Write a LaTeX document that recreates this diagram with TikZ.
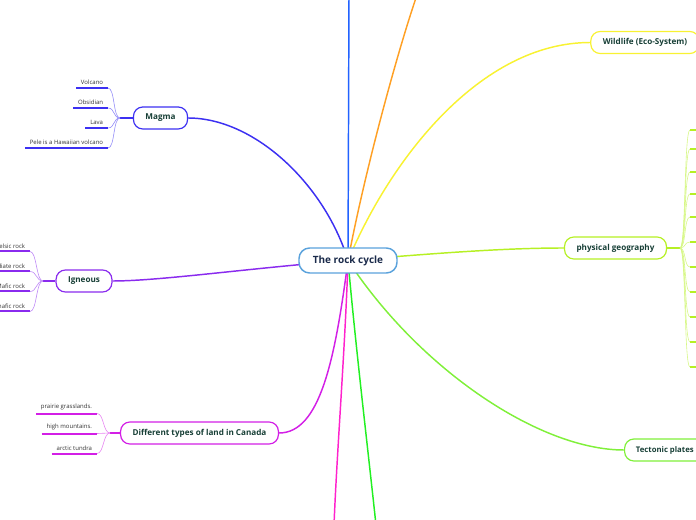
\documentclass[tikz,border=0pt]{standalone}
\usepackage{fontspec}
\setmainfont{Open Sans}
\pgfdeclarelayer{bg}
\pgfsetlayers{bg,main}
\definecolor{cRoot}{HTML}{5AA2DC}
\definecolor{cRootTxt}{HTML}{1B2B4B}
\definecolor{cTxt}{HTML}{173F36}
\definecolor{cLeaf}{HTML}{333333}
\definecolor{cMagma}{HTML}{3C30F2}
\definecolor{cIgn}{HTML}{8A2BEE}
\definecolor{cCan}{HTML}{D31FE6}
\definecolor{cMag}{HTML}{FF22CC}
\definecolor{cGreen}{HTML}{22F022}
\definecolor{cTect}{HTML}{80F03A}
\definecolor{cPhys}{HTML}{B6F024}
\definecolor{cWild}{HTML}{F8F232}
\definecolor{cOrange}{HTML}{FFA024}
\definecolor{cBlue}{HTML}{2262FF}
\tikzset{
  rootbox/.style={draw=cRoot, line width=1.1pt, fill=white, rounded corners=8pt,
    minimum width=73.5pt, minimum height=18.75pt,
    font=\fontsize{7.5}{9}\selectfont\bfseries, text=cRootTxt},
  branchbox/.style={draw=#1, line width=0.9pt, fill=white, rounded corners=7pt,
    inner xsep=9pt, inner ysep=0pt, minimum height=16.5pt,
    font=\fontsize{6.1}{8}\selectfont\bfseries, text=cTxt},
  leafbox/.style={anchor=south east, inner xsep=3.5pt, inner ysep=2.2pt,
    font=\fontsize{4.5}{5.5}\selectfont, text=cLeaf},
  mainline/.style={draw=#1, line width=1.1pt},
  subline/.style={draw=#1!55, line width=0.45pt},
  uline/.style={draw=#1, line width=1.5pt},
}
\begin{document}
\begin{tikzpicture}[x=0.75pt, y=-0.75pt]
\useasboundingbox (0,0) rectangle (696,520);
\clip (0,0) rectangle (696,520);

% nodes
\node[rootbox] (root) at (348,260.5) {The rock cycle};
\node[branchbox=cMagma] (magma) at (160.5,118) {Magma};
\node[branchbox=cIgn] (igneous) at (84,281) {Igneous};
\node[branchbox=cCan] (canada) at (199.5,433) {Different types of land in Canada};
\node[branchbox=cPhys] (phys) at (615.5,248) {physical geography};
\node[branchbox=cWild] (wild) at (645,42.5) {Wildlife (Eco-System)};
\node[branchbox=cTect, anchor=west, inner xsep=8.5pt,
      font=\fontsize{5.8}{7}\selectfont\bfseries] (tect) at (624,450) {Tectonic plates};

% leaves
\node[leafbox] (v1) at (108,88) {Volcano};
\node[leafbox] (v2) at (108,108) {Obsidian};
\node[leafbox] (v3) at (108,128) {Lava};
\node[leafbox] (v4) at (108,148) {Pele is a Hawaiian volcano};
\node[leafbox] (i1) at (30,251.5) {Felsic rock};
\node[leafbox] (i2) at (30,271.5) {Intermediate rock};
\node[leafbox] (i3) at (30,291.5) {Mafic rock};
\node[leafbox] (i4) at (30,311.5) {Ultramafic rock};
\node[leafbox] (c1) at (97,413.5) {prairie grasslands.};
\node[leafbox] (c2) at (97,433.5) {high mountains.};
\node[leafbox] (c3) at (97,453.5) {arctic tundra};

% junctions and free ends
\coordinate (mj) at (120,118);
\coordinate (ij) at (43,281);
\coordinate (cj) at (110,433);
\coordinate (pj) at (680,248);
\coordinate (bl) at (349,-5);
\coordinate (or) at (417,-5);
\coordinate (gd) at (376,525);
\coordinate (md) at (334,525);
\foreach \k/\y in {1/130,2/149,3/172,4/194,5/217,6/242,7/267,8/292,9/317,10/342,11/367}{
  \coordinate (p\k) at (690,\y);
  \coordinate (q\k) at (705,\y);
}

\begin{pgfonlayer}{bg}
% main branches
\draw[mainline=cBlue] (root.center) -- (bl);
\draw[mainline=cOrange] (root.center) .. controls (365,170) and (398,50) .. (or);
\draw[mainline=cWild] (root.center) .. controls (390,160) and (480,42.5) .. (wild.west);
\draw[mainline=cPhys] (root.center) .. controls (450,252) and (510,248) .. (phys.west);
\draw[mainline=cTect] (root.center) .. controls (420,370) and (540,450) .. (tect.west);
\draw[mainline=cGreen] (root.center) .. controls (356,350) and (368,450) .. (gd);
\draw[mainline=cMag] (root.center) .. controls (345,350) and (337,450) .. (md);
\draw[mainline=cCan] (root.center) .. controls (335,360) and (320,433) .. (canada.east);
\draw[mainline=cIgn] (root.center) .. controls (250,268) and (160,281) .. (igneous.east);
\draw[mainline=cMagma] (root.center) .. controls (325,185) and (255,118) .. (magma.east);

% stubs
\draw[mainline=cMagma] (mj) -- (magma.west);
\draw[mainline=cIgn] (ij) -- (igneous.west);
\draw[mainline=cCan] (cj) -- (canada.west);
\draw[mainline=cPhys] (phys.east) -- (pj);

% sub connectors and underlines
\foreach \n in {v1,v2,v3,v4}{
  \draw[subline=cMagma] (mj) .. controls +(-7,0) and +(7,0) .. (\n.south east);
  \draw[uline=cMagma] (\n.south west) -- (\n.south east);
}
\foreach \n in {i1,i2,i3,i4}{
  \draw[subline=cIgn] (ij) .. controls +(-7,0) and +(7,0) .. (\n.south east);
  \draw[uline=cIgn] (\n.south west) -- (\n.south east);
}
\foreach \n in {c1,c2,c3}{
  \draw[subline=cCan] (cj) .. controls +(-7,0) and +(7,0) .. (\n.south east);
  \draw[uline=cCan] (\n.south west) -- (\n.south east);
}
\foreach \k in {1,...,11}{
  \draw[subline=cPhys] (pj) .. controls +(6,0) and +(-6,0) .. (p\k);
  \draw[uline=cPhys] (p\k) -- (q\k);
}
\end{pgfonlayer}
\end{tikzpicture}
\end{document}
